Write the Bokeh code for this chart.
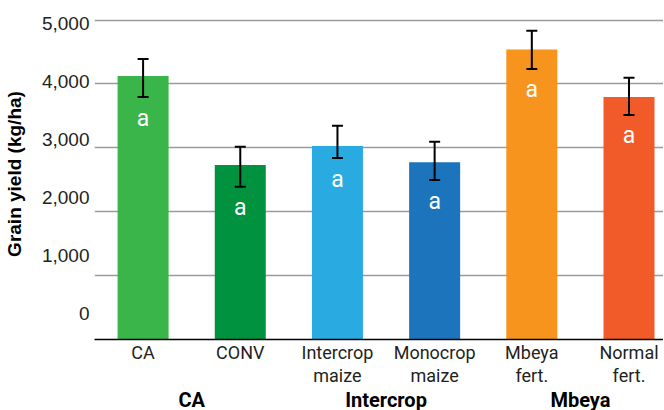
from bokeh.plotting import figure
from bokeh.models import (ColumnDataSource, Range1d, LinearAxis, FixedTicker, Grid,
                          Whisker, TeeHead, NumeralTickFormatter)
from bokeh.core.properties import value
from bokeh.embed import file_html
from bokeh.resources import INLINE

categories = ["CA", "CONV", "Intercrop\nmaize", "Monocrop\nmaize", "Mbeya\nfert.", "Normal\nfert."]
groups = ["CA", "Intercrop", "Mbeya"]
yields = [4125, 2730, 3030, 2775, 4540, 3795]
lower = [3795, 2390, 2840, 2495, 4235, 3515]
upper = [4390, 3015, 3345, 3095, 4830, 4095]
letters = ["a", "a", "a", "a", "a", "a"]
colors = ["#3AB54A", "#00923F", "#29ABE2", "#1C75BC", "#F7941D", "#F15A29"]
y_ticks = [0, 1000, 2000, 3000, 4000, 5000]

xs = [2 * i + 1 for i in range(len(categories))]
group_x = [4 * g + 2 for g in range(len(groups))]

CAT = "Roboto"
SANS = "Liberation Sans"

src = ColumnDataSource(dict(x=xs, y=yields, lower=lower, upper=upper,
                            letter=letters, color=colors))

p = figure(frame_width=569, frame_height=331,
           x_range=Range1d(0, 11.71), y_range=Range1d(0, 5180),
           output_backend="svg", toolbar_location=None,
           x_axis_location=None, y_axis_location=None,
           min_border_top=8, min_border_right=0, min_border_left=0, min_border_bottom=0)
p.outline_line_color = None
p.background_fill_color = "white"

# drop any default grids
for r in list(p.center):
    if isinstance(r, Grid):
        r.visible = False

grid = Grid(dimension=1, ticker=FixedTicker(ticks=y_ticks),
            grid_line_color="#9b9b9b", grid_line_width=1.5)
p.add_layout(grid)

# tick labels sit on their own (offset) scale, as in the original
p.extra_y_ranges = {"lab": Range1d(-448, 5259)}
yax = LinearAxis(y_range_name="lab", ticker=FixedTicker(ticks=y_ticks),
                 formatter=NumeralTickFormatter(format="0,0"),
                 axis_label="Grain yield (kg/ha)")
yax.axis_line_color = None
yax.major_tick_line_color = None
yax.minor_tick_line_color = None
yax.major_tick_out = 0
yax.major_tick_in = 0
yax.minor_tick_out = 0
yax.major_label_standoff = 5
yax.major_label_text_font = SANS
yax.major_label_text_font_size = "19px"
yax.major_label_text_color = "#231f20"
yax.axis_label_text_font = SANS
yax.axis_label_text_font_size = "19px"
yax.axis_label_text_font_style = "bold"
yax.axis_label_text_color = "#000000"
yax.axis_label_standoff = 14
p.add_layout(yax, "left")

p.vbar(x="x", top="y", width=1.05, bottom=0, fill_color="color", line_color=None, source=src)

w = Whisker(source=src, base="x", upper="upper", lower="lower", dimension="height",
            line_color="black", line_width=2, level="overlay",
            upper_head=TeeHead(size=11, line_color="black", line_width=2),
            lower_head=TeeHead(size=11, line_color="black", line_width=2))
p.add_layout(w)

p.text(x="x", y="lower", text="letter", source=src, text_color="white",
       text_font=value(CAT), text_font_size="23px", text_align="center",
       text_baseline="middle", y_offset=21)

xax = LinearAxis(ticker=FixedTicker(ticks=xs),
                 major_label_overrides={x: c for x, c in zip(xs, categories)})
xax.axis_line_color = "black"
xax.axis_line_width = 1.5
xax.major_tick_line_color = None
xax.minor_tick_line_color = None
xax.major_tick_out = 0
xax.major_tick_in = 0
xax.minor_tick_out = 0
xax.major_label_standoff = 2
xax.major_label_text_font = CAT
xax.major_label_text_font_size = "18px"
xax.major_label_text_line_height = 1.14
xax.major_label_text_color = "#231f20"
p.add_layout(xax, "below")

gax = LinearAxis(ticker=FixedTicker(ticks=group_x),
                 major_label_overrides={x: g for x, g in zip(group_x, groups)})
gax.axis_line_color = None
gax.major_tick_line_color = None
gax.minor_tick_line_color = None
gax.major_tick_out = 0
gax.major_tick_in = 0
gax.minor_tick_out = 0
gax.major_label_standoff = -2
gax.major_label_text_font = CAT
gax.major_label_text_font_size = "20px"
gax.major_label_text_font_style = "bold"
gax.major_label_text_color = "#000000"
p.add_layout(gax, "below")

open("out.html", "w").write(file_html(p, INLINE))
